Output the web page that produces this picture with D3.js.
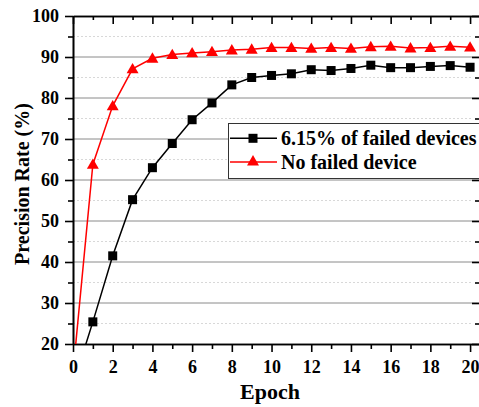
<!DOCTYPE html>
<html>
<head>
<meta charset="utf-8">
<script src="https://cdn.jsdelivr.net/npm/d3@7"></script>
<style>
  html, body { margin: 0; padding: 0; background: #fff; }
  svg { display: block; }
  text { font-family: "Liberation Serif", "Times New Roman", serif; font-weight: bold; fill: #000; }
</style>
</head>
<body>
<svg id="chart" width="479" height="407"></svg>
<script>
// ---- data ----
const epochs = [0,1,2,3,4,5,6,7,8,9,10,11,12,13,14,15,16,17,18,19,20];
const failedValues = [10,25.4,41.5,55.2,63,68.9,74.7,78.8,83.2,85,85.5,85.9,86.9,86.7,87.2,88,87.4,87.4,87.7,87.9,87.5];
const noFailValues = [13,63.8,78.1,87.1,89.7,90.6,91.0,91.3,91.7,91.9,92.3,92.3,92.1,92.3,92.1,92.5,92.6,92.2,92.3,92.6,92.4];
const seriesNames = ["6.15% of failed devices", "No failed device"];
const xTicks = [0,2,4,6,8,10,12,14,16,18,20];
const xMinorTicks = [1,3,5,7,9,11,13,15,17,19];
const yTicks = [20,30,40,50,60,70,80,90,100];
const yMinorTicks = [25,35,45,55,65,75,85,95];

// ---- layout ----
const svg = d3.select("#chart");
const L = 73, R = 480, T = 16, B = 344;
const x = d3.scaleLinear().domain([0, 20.5]).range([L, R]);
const y = d3.scaleLinear().domain([20, 100]).range([B, T]);

// clip
svg.append("defs").append("clipPath").attr("id", "clip")
  .append("rect").attr("x", L).attr("y", T).attr("width", R - L).attr("height", B - T);

// grid
const grid = svg.append("g");
grid.selectAll(".minor").data(yMinorTicks).enter().append("line")
  .attr("x1", L).attr("x2", R - 8).attr("y1", d => y(d)).attr("y2", d => y(d))
  .attr("stroke", "#d8d8d8").attr("stroke-width", 1).attr("stroke-dasharray", "2,2");
grid.selectAll(".major").data(yTicks.filter(d => d > 20 && d < 100)).enter().append("line")
  .attr("x1", L).attr("x2", R).attr("y1", d => y(d)).attr("y2", d => y(d))
  .attr("stroke", "#8a8a8a").attr("stroke-width", 1);

// axes
const fmt = d3.format("d");
const axisStyle = g => {
  g.select(".domain").attr("stroke", "#000").attr("stroke-width", 1.6);
  g.selectAll(".tick line").attr("stroke", "#000").attr("stroke-width", 1.6);
  g.selectAll("text").attr("font-size", 18).attr("font-family", "Liberation Serif, Times New Roman, serif").attr("font-weight", "bold").attr("fill", "#000");
};

// bottom
const gB = svg.append("g").attr("transform", `translate(0,${B})`)
  .call(d3.axisBottom(x).tickValues(xTicks).tickFormat(fmt).tickSize(8).tickSizeOuter(0).tickPadding(8));
gB.call(axisStyle);
svg.append("g").attr("transform", `translate(0,${B})`)
  .call(d3.axisBottom(x).tickValues(xMinorTicks).tickFormat("").tickSize(5).tickSizeOuter(0))
  .call(axisStyle);

// top
svg.append("g").attr("transform", `translate(0,${T})`)
  .call(d3.axisBottom(x).tickValues(xTicks).tickFormat("").tickSize(8).tickSizeOuter(0))
  .call(axisStyle);
svg.append("g").attr("transform", `translate(0,${T})`)
  .call(d3.axisBottom(x).tickValues(xMinorTicks).tickFormat("").tickSize(4).tickSizeOuter(0))
  .call(axisStyle);

// left
const gL = svg.append("g").attr("transform", `translate(${L},0)`)
  .call(d3.axisLeft(y).tickValues(yTicks).tickFormat(fmt).tickSize(8).tickSizeOuter(0).tickPadding(6));
gL.call(axisStyle);
svg.append("g").attr("transform", `translate(${L},0)`)
  .call(d3.axisLeft(y).tickValues(yMinorTicks).tickFormat("").tickSize(5).tickSizeOuter(0))
  .call(axisStyle);

// right (inward ticks)
svg.append("g").attr("transform", `translate(${R},0)`)
  .call(d3.axisLeft(y).tickValues(yTicks).tickFormat("").tickSize(8).tickSizeOuter(0))
  .call(axisStyle);
svg.append("g").attr("transform", `translate(${R},0)`)
  .call(d3.axisLeft(y).tickValues(yMinorTicks).tickFormat("").tickSize(5).tickSizeOuter(0))
  .call(axisStyle);

// series
const line = d3.line().x((d, i) => x(epochs[i])).y(d => y(d));
const plot = svg.append("g").attr("clip-path", "url(#clip)");

plot.append("path").datum(failedValues).attr("d", line)
  .attr("fill", "none").attr("stroke", "#000").attr("stroke-width", 1.5);
plot.append("path").datum(noFailValues).attr("d", line)
  .attr("fill", "none").attr("stroke", "#ff0000").attr("stroke-width", 1.5);

const sq = 9;
plot.selectAll(".sq").data(failedValues).enter().append("rect")
  .attr("x", (d, i) => x(epochs[i]) - sq / 2).attr("y", d => y(d) - sq / 2)
  .attr("width", sq).attr("height", sq).attr("fill", "#000");

const tri = d3.symbol().type(d3.symbolTriangle).size(62);
plot.selectAll(".tri").data(noFailValues).enter().append("path")
  .attr("d", tri)
  .attr("transform", (d, i) => `translate(${x(epochs[i])},${y(d) + 1})`)
  .attr("fill", "#ff0000");

// axis titles
svg.append("text").attr("x", 270).attr("y", 399).attr("text-anchor", "middle")
  .attr("font-size", 22).text("Epoch");
svg.append("text").attr("transform", "translate(29,184) rotate(-90)").attr("text-anchor", "middle")
  .attr("font-size", 20).text("Precision Rate (%)");

// legend
const lg = svg.append("g");
lg.append("rect").attr("x", 228.5).attr("y", 123.5).attr("width", 270).attr("height", 55)
  .attr("fill", "#fff").attr("stroke", "#333").attr("stroke-width", 1);
const legY = [138.3, 162];
const legColors = ["#000", "#ff0000"];
seriesNames.forEach((name, i) => {
  lg.append("line").attr("x1", 230).attr("x2", 277).attr("y1", legY[i]).attr("y2", legY[i])
    .attr("stroke", legColors[i]).attr("stroke-width", 1.5);
  if (i === 0) {
    lg.append("rect").attr("x", 253 - sq / 2).attr("y", legY[i] - sq / 2)
      .attr("width", sq).attr("height", sq).attr("fill", "#000");
  } else {
    lg.append("path").attr("d", tri).attr("transform", `translate(253,${legY[i]})`).attr("fill", "#ff0000");
  }
  lg.append("text").attr("x", 281).attr("y", legY[i] + 6.5).attr("font-size", 20).text(name);
});
</script>
</body>
</html>
